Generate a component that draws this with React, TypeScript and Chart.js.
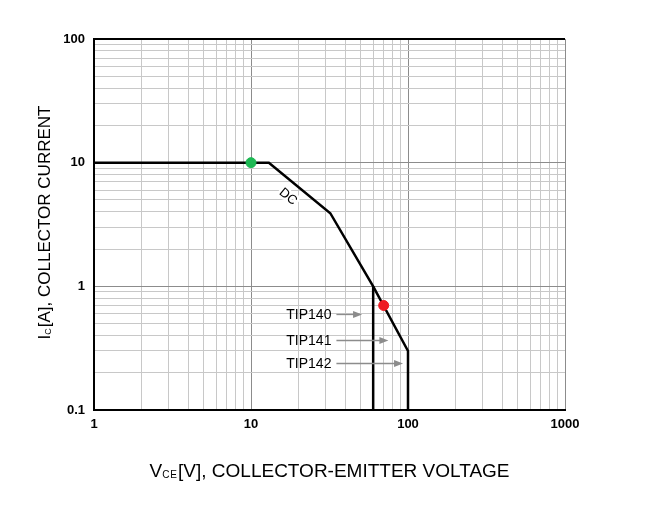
import React, { useEffect, useRef } from 'react';
import { Chart, registerables } from 'chart.js';

Chart.register(...registerables);

// ---- data ----
const dcVoltage = [1, 13, 32, 60, 100, 100];
const dcCurrent = [10, 10, 3.9, 1, 0.3, 0.1];
const tip140Voltage = [60, 60];
const tip140Current = [1, 0.1];
const greenPointV = [10];
const greenPointI = [10];
const redPointV = [70];
const redPointI = [0.7];
const xTickLabels = [1, 10, 100, 1000];
const yTickLabels = [0.1, 1, 10, 100];
const tipLabels = ['TIP140', 'TIP141', 'TIP142'];
const tipArrowY = [0.6, 0.37, 0.24];
const tipArrowStartX = [35, 35, 35];
const tipArrowEndX = [51, 75, 93];
const dcLabelV = 17.2;
const dcLabelI = 5.3;

const FONT = '"Liberation Sans", Arial, Helvetica, sans-serif';

function isDecade(v: number) {
  const l = Math.log10(v);
  return Math.abs(l - Math.round(l)) < 1e-6;
}
function isHalfStep(v: number) {
  const m = v / Math.pow(10, Math.floor(Math.log10(v) + 1e-9));
  return Math.abs(m - 1.5) < 1e-6;
}
function matchLabel(list: number[], v: number) {
  const f = list.find((t) => Math.abs(Math.log10(t) - Math.log10(v)) < 1e-6);
  return f === undefined ? '' : String(f);
}

type Part = { text: string; sub?: boolean };
function drawRich(ctx: CanvasRenderingContext2D, parts: Part[], cx: number, baseline: number, size: number) {
  const subSize = Math.round(size * 0.55);
  const widths = parts.map((p) => {
    ctx.font = `${p.sub ? subSize : size}px ${FONT}`;
    (ctx as any).letterSpacing = p.sub ? '1px' : '0px';
    return ctx.measureText(p.text).width;
  });
  const total = widths.reduce((a, b) => a + b, 0);
  let xx = cx - total / 2;
  ctx.textAlign = 'left';
  ctx.textBaseline = 'alphabetic';
  parts.forEach((p, i) => {
    ctx.font = `${p.sub ? subSize : size}px ${FONT}`;
    (ctx as any).letterSpacing = p.sub ? '1px' : '0px';
    ctx.fillText(p.text, xx, baseline + (p.sub ? 1 : 0));
    xx += widths[i];
  });
  (ctx as any).letterSpacing = '0px';
}

const overlayPlugin = {
  id: 'overlay',
  afterDraw(chart: any) {
    const { ctx, chartArea: a } = chart;
    const x = chart.scales.x;
    const y = chart.scales.y;
    ctx.save();
    // top frame line
    ctx.strokeStyle = '#000';
    ctx.lineWidth = 2;
    ctx.beginPath();
    ctx.moveTo(a.left - 1, a.top);
    ctx.lineTo(a.right, a.top);
    ctx.stroke();

    // DC label
    const dx = x.getPixelForValue(dcLabelV);
    const dy = y.getPixelForValue(dcLabelI);
    ctx.translate(dx, dy);
    ctx.rotate((40 * Math.PI) / 180);
    ctx.font = `13px ${FONT}`;
    ctx.textAlign = 'center';
    ctx.textBaseline = 'middle';
    ctx.lineWidth = 5;
    ctx.strokeStyle = '#fff';
    ctx.lineJoin = 'round';
    ctx.strokeText('DC', 0, 0);
    ctx.fillStyle = '#000';
    ctx.fillText('DC', 0, 0);
    ctx.setTransform(1, 0, 0, 1, 0, 0);

    // TIP labels + arrows
    tipLabels.forEach((lab, i) => {
      const x0 = x.getPixelForValue(tipArrowStartX[i]);
      const x1 = x.getPixelForValue(tipArrowEndX[i]);
      const py = Math.round(y.getPixelForValue(tipArrowY[i])) + 0.5;
      ctx.strokeStyle = '#8c8c8c';
      ctx.fillStyle = '#8c8c8c';
      ctx.lineWidth = 1.3;
      ctx.beginPath();
      ctx.moveTo(x0, py);
      ctx.lineTo(x1 - 6, py);
      ctx.stroke();
      ctx.beginPath();
      ctx.moveTo(x1, py);
      ctx.lineTo(x1 - 9, py - 3.5);
      ctx.lineTo(x1 - 9, py + 3.5);
      ctx.closePath();
      ctx.fill();
      ctx.fillStyle = '#000';
      ctx.font = `14px ${FONT}`;
      ctx.textAlign = 'right';
      ctx.textBaseline = 'middle';
      ctx.fillText(lab, x0 - 5, py + 0.5);
    });

    // axis titles
    ctx.fillStyle = '#000';
    const cx = (a.left + a.right) / 2;
    drawRich(
      ctx,
      [{ text: 'V' }, { text: 'CE', sub: true }, { text: '[V], COLLECTOR-EMITTER VOLTAGE' }],
      cx,
      477,
      19
    );
    const cy = (a.top + a.bottom) / 2 - 2;
    ctx.translate(50, cy);
    ctx.rotate(-Math.PI / 2);
    drawRich(ctx, [{ text: 'I' }, { text: 'C', sub: true }, { text: '[A], COLLECTOR CURRENT' }], 0, 0, 17);
    ctx.restore();
  },
};

export default function App() {
  const ref = useRef<HTMLCanvasElement>(null);
  useEffect(() => {
    if (!ref.current) return;
    const gridColor = (c: any) => (c.tick && isDecade(c.tick.value) ? '#8c8c8c' : '#c8c8c8');
    const chart = new Chart(ref.current, {
      type: 'scatter',
      data: {
        datasets: [
          {
            label: 'green',
            data: greenPointV.map((v, i) => ({ x: v, y: greenPointI[i] })),
            backgroundColor: '#1db954',
            borderColor: '#1db954',
            pointRadius: 5,
            order: 0,
          },
          {
            label: 'red',
            data: redPointV.map((v, i) => ({ x: v, y: redPointI[i] })),
            backgroundColor: '#ee1c24',
            borderColor: '#ee1c24',
            pointRadius: 5,
            order: 0,
          },
          {
            label: 'DC',
            data: dcVoltage.map((v, i) => ({ x: v, y: dcCurrent[i] })),
            showLine: true,
            borderColor: '#000',
            borderWidth: 2.5,
            pointRadius: 0,
            order: 1,
          },
          {
            label: 'TIP140',
            data: tip140Voltage.map((v, i) => ({ x: v, y: tip140Current[i] })),
            showLine: true,
            borderColor: '#000',
            borderWidth: 2.5,
            pointRadius: 0,
            order: 1,
          },
        ],
      },
      options: {
        responsive: false,
        animation: false,
        devicePixelRatio: 1,
        layout: { padding: { left: 0, top: 39, right: 92, bottom: 0 } },
        plugins: { legend: { display: false }, tooltip: { enabled: false }, title: { display: false } },
        scales: {
          x: {
            type: 'logarithmic',
            min: 1,
            max: 1000,
            afterBuildTicks: (s: any) => {
              s.ticks = s.ticks.filter((t: any) => !isHalfStep(t.value));
            },
            afterFit: (s: any) => {
              s.height = 97;
            },
            ticks: {
              autoSkip: false,
              maxRotation: 0,
              padding: 7,
              color: '#000',
              font: { family: FONT, size: 13, weight: 'bold' },
              callback: (v: any) => matchLabel(xTickLabels, Number(v)),
            },
            grid: { color: gridColor, lineWidth: 1, drawTicks: false },
            border: { color: '#000', width: 2 },
          },
          y: {
            type: 'logarithmic',
            min: 0.1,
            max: 100,
            afterBuildTicks: (s: any) => {
              s.ticks = s.ticks.filter((t: any) => !isHalfStep(t.value));
            },
            afterFit: (s: any) => {
              s.width = 94;
            },
            ticks: {
              autoSkip: false,
              padding: 9,
              color: '#000',
              font: { family: FONT, size: 13, weight: 'bold' },
              callback: (v: any) => matchLabel(yTickLabels, Number(v)),
            },
            grid: { color: gridColor, lineWidth: 1, drawTicks: false },
            border: { color: '#000', width: 2 },
          },
        },
      },
      plugins: [overlayPlugin],
    } as any);
    return () => chart.destroy();
  }, []);
  return (
    <div style={{ position: 'absolute', left: 0, top: 0, width: 657, height: 507, background: '#fff' }}>
      <canvas ref={ref} width={657} height={507} style={{ display: 'block' }} />
    </div>
  );
}
